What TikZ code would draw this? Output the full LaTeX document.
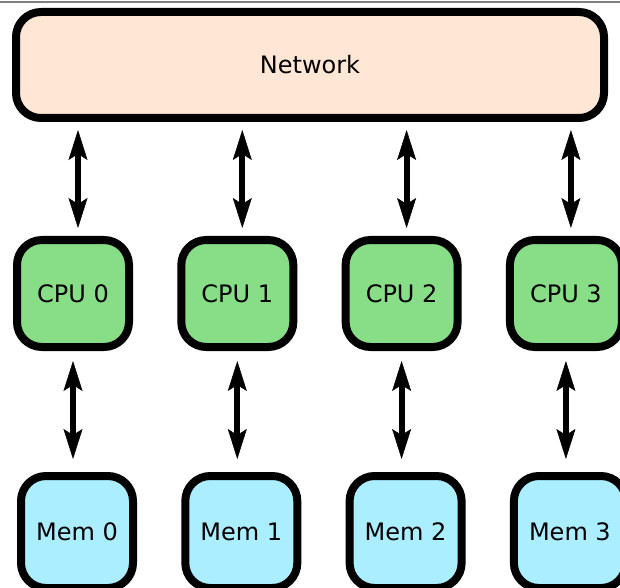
\documentclass[tikz,border=0pt]{standalone}
\usepackage{fontspec}
\setmainfont{DejaVu Sans}
\usetikzlibrary{arrows.meta}
\definecolor{netfill}{HTML}{FFE6D5}
\definecolor{cpufill}{HTML}{87DE87}
\definecolor{memfill}{HTML}{AAEEFF}
\tikzset{
box/.style={draw=black, line width=8pt, rounded corners=25pt, inner sep=0pt,
  font=\fontsize{24}{28}\selectfont},
netbox/.style={box, fill=netfill, minimum width=588pt, minimum height=106pt},
cpubox/.style={box, fill=cpufill, minimum width=112pt, minimum height=107pt},
membox/.style={box, fill=memfill, minimum width=112pt, minimum height=112pt},
tip/.style={Stealth[length=30pt, width=19pt, inset=6pt, line width=0.5pt]},
link/.style={line width=6pt, {Stealth[length=30pt, width=19pt, inset=6pt, line width=0.5pt]}-{Stealth[length=30pt, width=19pt, inset=6pt, line width=0.5pt]}}
}

\begin{document}
\begin{tikzpicture}[x=1pt, y=1pt]
  \useasboundingbox (0,0) rectangle (620,587);
  \draw[gray, line width=1.2pt] (0,585) -- (620,585);
  \node[netbox] (net) at (310,522) {Network};
  \foreach \i in {0,...,3} {
    \node[cpubox] (cpu\i) at ({73+164.3*\i},293.5) {CPU \i};
    \node[membox] (mem\i) at ({77+164.3*\i},55) {Mem \i};
    \coordinate (up\i) at ([xshift=5pt]cpu\i.north);
    \draw[link, shorten <=8pt, shorten >=8pt] (up\i |- net.south) -- (up\i);
    \draw[link, shorten <=10pt, shorten >=13pt] (cpu\i.south) -- (cpu\i.south |- mem\i.north);
  }
\end{tikzpicture}
\end{document}
